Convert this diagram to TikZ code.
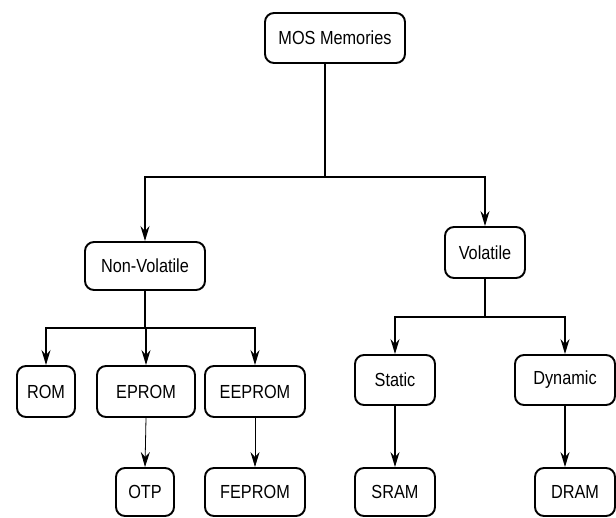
\documentclass[tikz,border=0pt]{standalone}
\usepackage{fontspec}
\setmainfont{Liberation Sans}[FakeStretch=0.86]
\usepackage{tikz}
\usetikzlibrary{arrows.meta,positioning}

\begin{document}
\begin{tikzpicture}[
      x=1bp, y=-1bp,
      memnode/.style={draw, line width=1.9bp, rounded corners=9bp,
        minimum height=50bp, inner sep=0pt,
        font=\fontsize{19}{22}\selectfont},
      conn/.style={line width=1.6bp},
      msgarrow/.style={conn, -{Stealth[length=15bp, width=9bp, inset=5bp]}},
      thinarrow/.style={line width=0.8bp, -{Stealth[length=15bp, width=9bp, inset=5bp]}},
    ]
    \useasboundingbox (0,0) rectangle (616,518);

    % Top level
    \node[memnode, minimum width=140bp] (mos) at (335, 38) {MOS Memories};
    \node[memnode, minimum width=120bp, minimum height=48bp] (nonvol) at (145, 266) {Non-Volatile};
    \node[memnode, minimum width=80bp, minimum height=51bp] (vol) at (485, 252.5) {Volatile};

    % Non-volatile branch
    \node[memnode, minimum width=58bp, minimum height=51bp] (rom) at (46, 391.5) {ROM};
    \node[memnode, minimum width=98bp, minimum height=51bp] (eprom) at (146, 391.5) {EPROM};
    \node[memnode, minimum width=100bp, minimum height=51bp] (eeprom) at (255, 391.5) {EEPROM};
    \node[memnode, minimum width=58bp, minimum height=48bp] (otp) at (145, 492) {OTP};
    \node[memnode, minimum width=100bp, minimum height=48bp] (feprom) at (255, 492) {FEPROM};

    % Volatile branch
    \node[memnode, minimum width=80bp] (static) at (395, 380) {Static};
    \node[memnode, minimum width=100bp] (dynamic) at (565, 380) {Dynamic};
    \node[memnode, minimum width=80bp, minimum height=48bp] (sram) at (395, 492) {SRAM};
    \node[memnode, minimum width=80bp, minimum height=48bp] (dram) at (575, 492) {DRAM};

    % Split points
    \coordinate (mossplit) at (325, 177);
    \coordinate (nvsplit) at (145, 328);
    \coordinate (vsplit) at (485, 317);

    \draw[conn] (mos.south -| mossplit) -- (mossplit);
    \draw[msgarrow] (mossplit) -| (nonvol.north);
    \draw[msgarrow] (mossplit) -| (vol.north);

    \draw[conn] (nonvol.south) -- (nvsplit);
    \foreach \child in {rom, eprom, eeprom}
      \draw[msgarrow] (nvsplit) -| (\child.north);
    \draw[thinarrow] (eprom.south) -- (otp.north);
    \draw[thinarrow] (eeprom.south) -- (feprom.north);

    \draw[conn] (vol.south) -- (vsplit);
    \foreach \child in {static, dynamic}
      \draw[msgarrow] (vsplit) -| (\child.north);
    \draw[msgarrow] (static.south) -- (sram.north);
    \draw[msgarrow] (dynamic.south) -- (dynamic.south |- dram.north);
  \end{tikzpicture}
\end{document}
